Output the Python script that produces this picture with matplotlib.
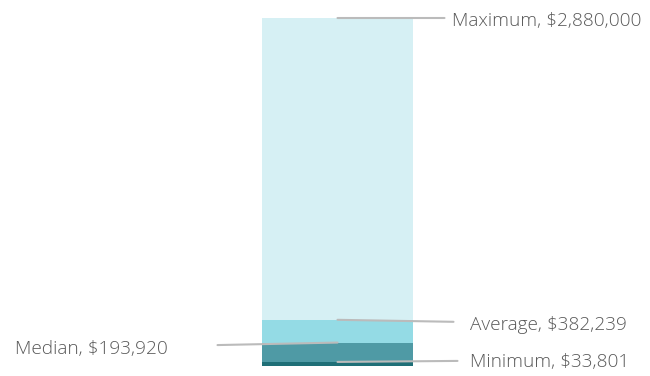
import matplotlib
matplotlib.use("Agg")
import matplotlib.pyplot as plt

labels = ["Minimum", "Median", "Average", "Maximum"]
values = [33801, 193920, 382239, 2880000]
colors = ["#1F6F77", "#4F9AA5", "#94DBE5", "#D6F0F4"]

W, H = 650, 376
fig = plt.figure(figsize=(W / 100, H / 100), dpi=100)
y0_px, ytop_px = 366, 18
ax = fig.add_axes([0, (H - y0_px) / H, 1, (y0_px - ytop_px) / H])
ax.set_xlim(0, W)
ax.set_ylim(0, values[-1])
ax.axis("off")

xc = 337.5
bw = 151
prev = 0
for v, c in zip(values, colors):
    ax.bar(xc, v - prev, bottom=prev, width=bw, color=c, linewidth=0)
    prev = v

# leader line offsets (pixels): (dx, dy, text dx, text dy)
offs = {
    "Maximum": (107, 0, 115, -3),
    "Average": (116, -2, 132, -5),
    "Median": (-120, -2.5, -170, -6),
    "Minimum": (120, 1, 132, 0),
}
pt = 0.72
for lab, v in zip(labels, values):
    dx, dy, tx, ty = offs[lab]
    ax.annotate("", xy=(xc, v), xytext=(dx * pt, dy * pt), textcoords="offset points",
                arrowprops=dict(arrowstyle="-", color="#BBBBBB", lw=1.5, shrinkA=0, shrinkB=0),
                annotation_clip=False)
    ha = "left" if tx > 0 else "right"
    ax.annotate(f"{lab}, ${v:,}", xy=(xc, v), xytext=(tx * pt, ty * pt),
                textcoords="offset points", ha=ha, va="center",
                fontsize=13.7, color="#595959", family=["Open Sans", "DejaVu Sans"], fontweight="light",
                annotation_clip=False)

fig.savefig("out.png", dpi=100)
